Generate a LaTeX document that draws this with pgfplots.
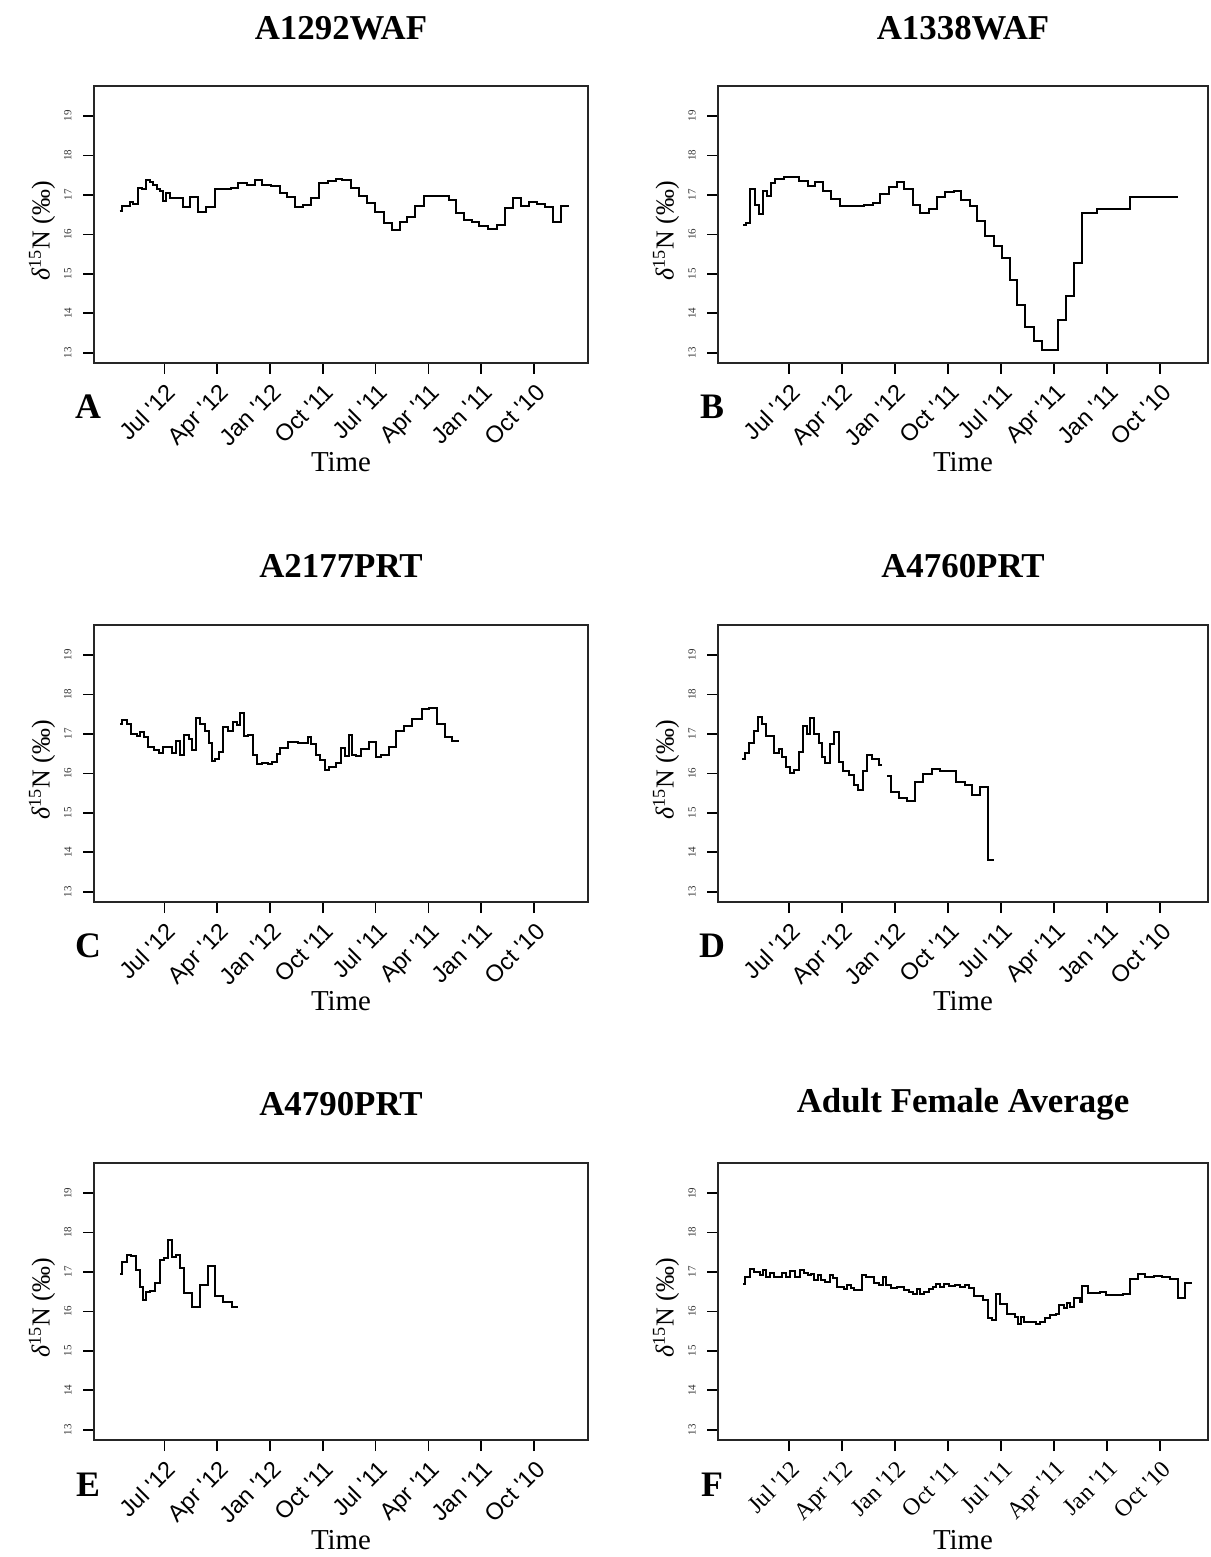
\documentclass[border=0pt]{standalone}
\usepackage{fontspec}
\setmainfont{Liberation Serif}
\setsansfont{Liberation Sans}
\usepackage{pgfplots}
\pgfplotsset{compat=1.18}
\newcommand{\q}{\textquotesingle}
\pgfplotsset{
 panel/.style={
  scale only axis, height=138.5bp,
  xmin=-4, ymin=12.74, ymax=19.76,
  xtick={0,3,...,21},
  xticklabels={Jul \q12, Apr \q12, Jan \q12, Oct \q11, Jul \q11, Apr \q11, Jan \q11, Oct \q10},
  ytick={13,...,19},
  tick align=outside, xtick pos=left, ytick pos=left,
  major tick length=5.5bp,
  axis line style={line width=0.9bp, black!85},
  every tick/.style={black, line width=0.8bp},
  x tick label style={rotate=45, anchor=north east, font=\sffamily\fontsize{11.8}{12}\selectfont, inner sep=1.5bp, xshift=-1bp, yshift=-1.5bp},
  y tick label style={rotate=90, anchor=south, font=\fontsize{5.5}{6}\selectfont, inner sep=2bp, yshift=3.5bp, black!80},
  /pgf/number format/assume math mode=true,
 },
 colA/.style={panel, width=247bp, xmax=24.07},
 colB/.style={panel, width=245bp, xmax=23.70},
 stepline/.style={const plot, black, line width=1bp, mark=none},
}
\newcommand{\ttl}[3]{\node[font=\fontsize{17.5}{20}\selectfont\bfseries] at (#1,#2) {#3};}
\newcommand{\lett}[3]{\node[font=\fontsize{18}{20}\selectfont\bfseries] at (#1,#2) {#3};}
\newcommand{\tim}[2]{\node[font=\fontsize{14.5}{16}\selectfont] at (#1,#2) {Time};}
\newcommand{\ylab}[2]{\node[rotate=90, font=\fontsize{13}{15}\selectfont] at (#1,#2) {{\itshape δ}\textsuperscript{15}N (‰)};}
\begin{document}
\begin{tikzpicture}
\path[use as bounding box] (0,0) rectangle (605.5bp,-778.5bp);

% ---------- A ----------
\begin{axis}[colA, at={(47bp,-43bp)}, anchor=north west]
\addplot[stepline] coordinates {
(-2.54,16.60) (-2.41,16.73) (-1.97,16.82) (-1.78,16.77) (-1.50,17.17) (-1.27,17.15)
(-1.03,17.39) (-0.84,17.32) (-0.65,17.24) (-0.42,17.15) (-0.23,17.10) (-0.08,16.85)
(0.11,17.05) (0.30,16.93) (1.03,16.70) (1.48,16.94) (1.92,16.57) (2.39,16.70)
(2.85,17.14) (3.76,17.17) (4.20,17.29) (4.67,17.24) (5.13,17.39) (5.56,17.26)
(6.04,17.22) (6.55,17.04) (6.99,16.95) (7.44,16.70) (7.86,16.75) (8.32,16.93)
(8.81,17.29) (9.27,17.34) (9.74,17.41) (10.12,17.37) (10.59,17.17) (11.07,16.98)
(11.54,16.80) (11.98,16.56) (12.45,16.29) (12.91,16.12) (13.37,16.31) (13.78,16.44)
(14.24,16.71) (14.73,16.97) (15.53,16.98) (16.16,16.88) (16.59,16.54) (17.01,16.36)
(17.49,16.31) (17.90,16.21) (18.38,16.14) (18.89,16.24) (19.35,16.66) (19.80,16.92)
(20.28,16.73) (20.71,16.83) (21.19,16.78) (21.64,16.70) (22.08,16.31) (22.56,16.73)
(22.97,16.73)
};
\end{axis}

% ---------- B ----------
\begin{axis}[colB, at={(359bp,-43bp)}, anchor=north west]
\addplot[stepline] coordinates {
(-2.58,16.24) (-2.41,16.30) (-2.17,17.14) (-1.92,16.75) (-1.69,16.52) (-1.45,17.09)
(-1.22,16.98) (-1.00,17.30) (-0.77,17.41) (-0.28,17.45) (0.58,17.34) (1.07,17.23)
(1.51,17.33) (1.94,17.09) (2.39,16.89) (2.88,16.73) (3.30,16.71) (4.27,16.75)
(4.76,16.79) (5.18,17.02) (5.65,17.21) (6.12,17.33) (6.53,17.14) (7.02,16.74)
(7.44,16.54) (7.91,16.64) (8.38,16.94) (8.85,17.08) (9.32,17.11) (9.74,16.86)
(10.23,16.71) (10.64,16.34) (11.11,15.95) (11.58,15.71) (12.05,15.40) (12.52,14.85)
(12.90,14.22) (13.37,13.66) (13.84,13.30) (14.31,13.08) (15.20,13.83) (15.69,14.45)
(16.14,15.27) (16.57,16.54) (17.42,16.64) (19.30,16.94) (22.03,16.94)
};
\end{axis}

% ---------- C ----------
\begin{axis}[colA, at={(47bp,-312.5bp)}, anchor=north west]
\addplot[stepline] coordinates {
(-2.52,17.26) (-2.39,17.36) (-2.15,17.24) (-1.92,17.01) (-1.58,16.94) (-1.39,17.05)
(-1.17,16.93) (-0.94,16.67) (-0.60,16.59) (-0.32,16.52) (-0.08,16.66) (0.43,16.51)
(0.68,16.81) (0.87,16.46) (1.09,16.97) (1.37,16.86) (1.56,16.59) (1.81,17.41)
(2.03,17.26) (2.32,17.08) (2.56,16.76) (2.69,16.31) (2.88,16.37) (3.13,16.55)
(3.35,17.18) (3.63,17.08) (3.88,17.30) (4.11,17.22) (4.29,17.53) (4.52,16.94)
(4.76,16.96) (5.01,16.46) (5.24,16.24) (5.52,16.27) (5.89,16.24) (6.14,16.30)
(6.37,16.48) (6.59,16.65) (7.02,16.79) (7.59,16.76) (8.15,16.93) (8.34,16.74)
(8.62,16.46) (8.85,16.34) (9.10,16.09) (9.34,16.17) (9.76,16.27) (10.04,16.65)
(10.28,16.44) (10.47,16.96) (10.66,16.46) (10.89,16.45) (11.17,16.61) (11.60,16.79)
(12.02,16.42) (12.30,16.47) (12.77,16.66) (13.15,17.08) (13.62,17.19) (14.09,17.38)
(14.61,17.64) (15.03,17.66) (15.50,17.25) (15.93,16.93) (16.35,16.83) (16.76,16.83)
};
\end{axis}

% ---------- D ----------
\begin{axis}[colB, at={(359bp,-312.5bp)}, anchor=north west]
\addplot[stepline] coordinates {
(-2.64,16.37) (-2.49,16.51) (-2.26,16.78) (-1.98,17.08) (-1.75,17.43) (-1.51,17.26)
(-1.26,16.94) (-0.81,16.52) (-0.56,16.61) (-0.38,16.41) (-0.13,16.17) (0.09,16.00)
(0.32,16.09) (0.56,16.55) (0.81,17.19) (1.04,17.01) (1.22,17.41) (1.45,17.01)
(1.69,16.76) (1.88,16.42) (2.07,16.26) (2.35,16.74) (2.58,17.04) (2.82,16.30)
(3.07,16.05) (3.39,15.96) (3.67,15.71) (3.90,15.58) (4.20,16.05) (4.43,16.46)
(4.71,16.36) (5.08,16.21) (5.27,16.21)
};
\addplot[stepline] coordinates {
(5.56,15.94) (5.78,15.54) (6.21,15.37) (6.69,15.29) (7.16,15.77) (7.59,15.99)
(8.10,16.10) (8.53,16.07) (8.98,16.05) (9.47,15.79) (9.98,15.71) (10.36,15.46)
(10.83,15.65) (11.24,13.81) (11.62,13.81)
};
\end{axis}

% ---------- E ----------
\begin{axis}[colA, at={(47bp,-581.5bp)}, anchor=north west]
\addplot[stepline] coordinates {
(-2.52,16.96) (-2.39,17.25) (-2.15,17.42) (-1.92,17.40) (-1.64,17.05) (-1.39,16.61)
(-1.21,16.30) (-1.02,16.48) (-0.79,16.52) (-0.51,16.72) (-0.26,17.30) (0.00,17.35)
(0.19,17.81) (0.43,17.39) (0.68,17.42) (0.87,17.09) (1.09,16.46) (1.56,16.12)
(2.03,16.67) (2.45,17.15) (2.88,16.40) (3.35,16.23) (3.82,16.10) (4.20,16.10)
};
\end{axis}

% ---------- F ----------
\begin{axis}[colB, at={(359bp,-581.5bp)}, anchor=north west,
  x tick label style={font=\rmfamily\fontsize{12}{12}\selectfont}]
\addplot[stepline] coordinates {
(-2.58,16.69) (-2.45,16.86) (-2.20,17.07) (-1.94,17.00) (-1.64,16.92) (-1.45,17.04)
(-1.26,16.86) (-1.04,16.97) (-0.81,16.88) (-0.38,16.96) (-0.13,16.88) (0.09,17.02)
(0.38,16.86) (0.62,17.04) (0.85,16.98) (1.07,16.92) (1.26,16.95) (1.45,16.80)
(1.64,16.92) (1.83,16.80) (2.07,16.75) (2.32,16.92) (2.50,16.85) (2.73,16.62)
(3.11,16.57) (3.30,16.67) (3.52,16.59) (3.71,16.55) (4.14,16.92) (4.39,16.87)
(4.80,16.72) (5.08,16.68) (5.33,16.88) (5.52,16.67) (5.78,16.58) (6.12,16.61)
(6.53,16.55) (6.78,16.50) (7.02,16.44) (7.25,16.57) (7.44,16.44) (7.66,16.50)
(7.91,16.57) (8.15,16.62) (8.34,16.70) (8.57,16.61) (8.79,16.70) (9.04,16.65)
(9.42,16.67) (9.70,16.61) (9.98,16.67) (10.17,16.58) (10.49,16.40) (10.98,16.30)
(11.24,15.84) (11.49,15.78) (11.73,16.45) (11.92,16.19) (12.34,15.94) (12.81,15.85)
(12.94,15.68) (13.13,15.85) (13.31,15.73) (13.75,15.74) (13.99,15.68) (14.22,15.73)
(14.50,15.83) (14.75,15.91) (15.12,15.94) (15.25,16.15) (15.54,16.08) (15.73,16.21)
(15.91,16.10) (16.14,16.33) (16.44,16.25) (16.57,16.65) (16.89,16.46) (17.57,16.48)
(17.95,16.41) (18.89,16.45) (19.30,16.82) (19.72,16.94) (20.15,16.86) (20.62,16.90)
(21.09,16.86) (21.56,16.82) (22.03,16.33) (22.41,16.73) (22.79,16.73)
};
\end{axis}

% ---------- text ----------
\ttl{170.5bp}{-14bp}{A1292WAF}
\ttl{481.5bp}{-14bp}{A1338WAF}
\ttl{170.5bp}{-283bp}{A2177PRT}
\ttl{481.5bp}{-283bp}{A4760PRT}
\ttl{170.5bp}{-552bp}{A4790PRT}
\ttl{481.5bp}{-552bp}{Adult Female Average}

\lett{44bp}{-203.5bp}{A}
\lett{356bp}{-203.5bp}{B}
\lett{44bp}{-473bp}{C}
\lett{356bp}{-473bp}{D}
\lett{44bp}{-742.5bp}{E}
\lett{356bp}{-742.5bp}{F}

\tim{170.5bp}{-231bp}
\tim{481.5bp}{-231bp}
\tim{170.5bp}{-500.5bp}
\tim{481.5bp}{-500.5bp}
\tim{170.5bp}{-770bp}
\tim{481.5bp}{-770bp}

\ylab{21bp}{-115.5bp}
\ylab{333bp}{-115.5bp}
\ylab{21bp}{-385bp}
\ylab{333bp}{-385bp}
\ylab{21bp}{-654bp}
\ylab{333bp}{-654bp}
\end{tikzpicture}
\end{document}
